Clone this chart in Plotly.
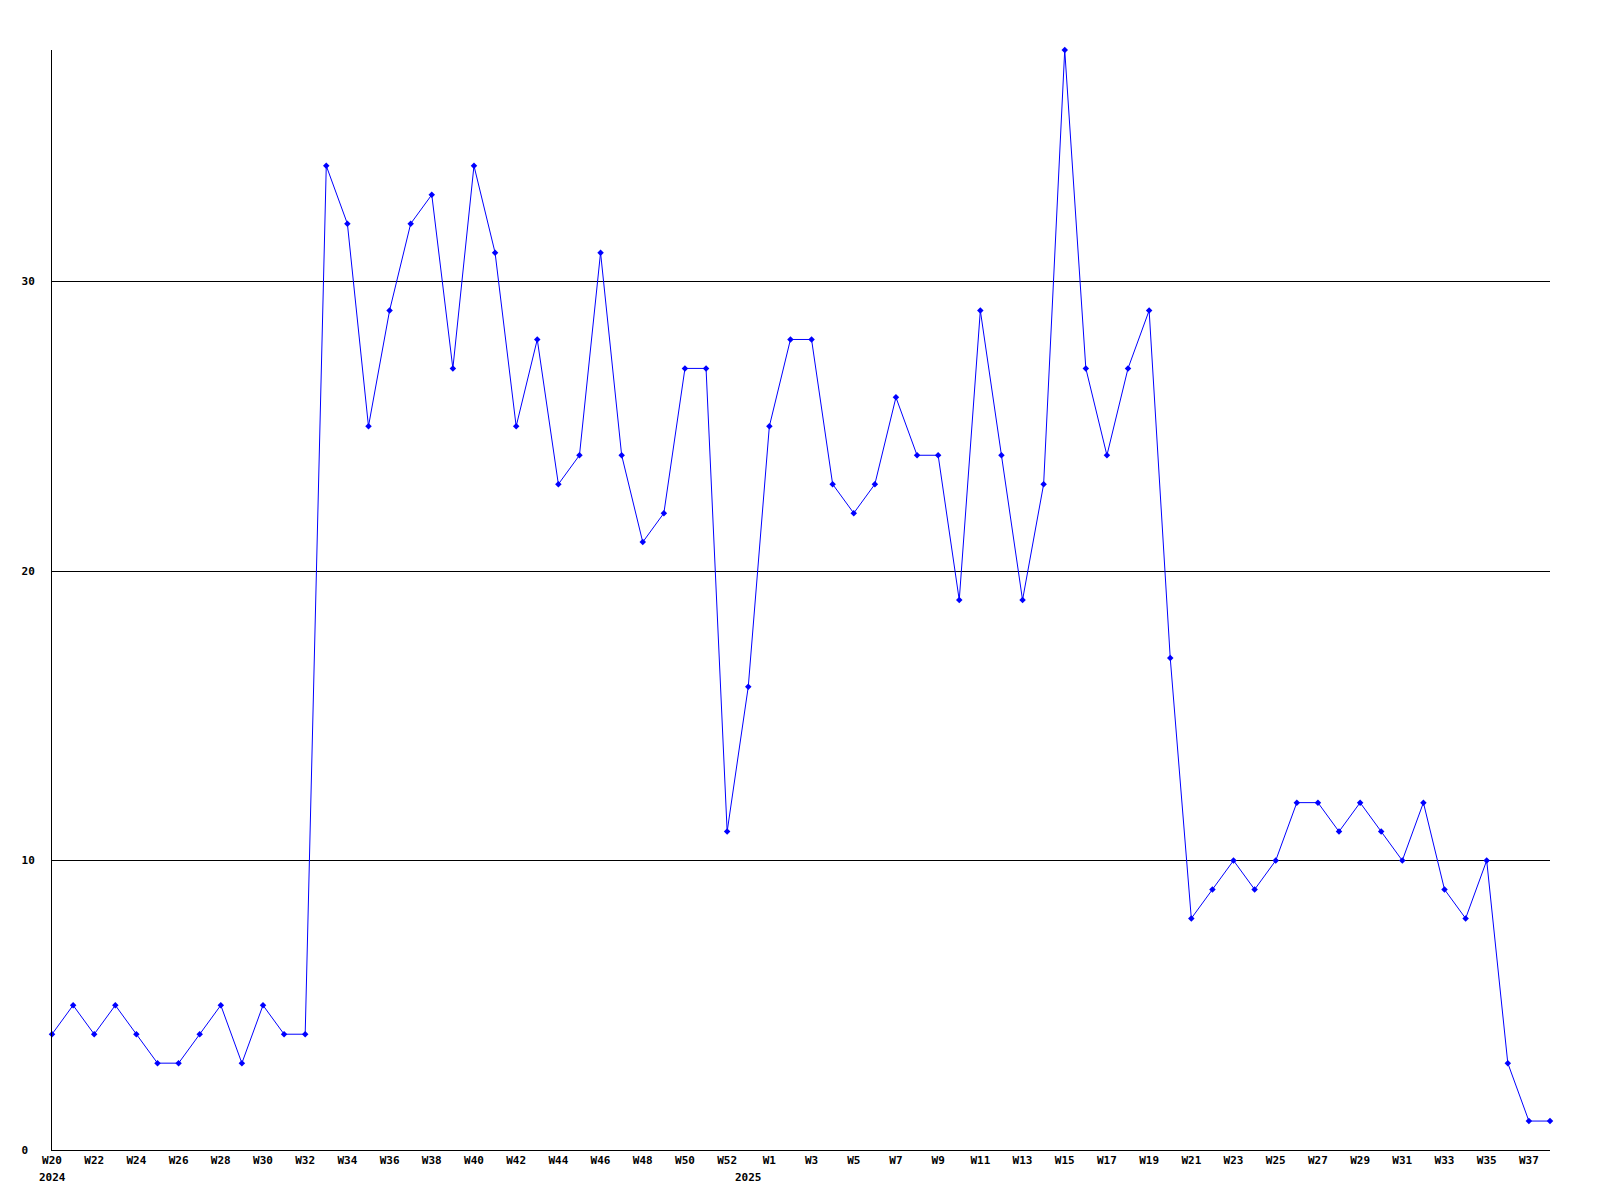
import plotly.graph_objects as go

# Week labels: 2024 W20..W52, an extra week, then 2025 W1..W38
weeks_2024 = ["W%d" % w for w in range(20, 53)]
weeks_extra = ["W53"]
weeks_2025 = ["W%d" % w for w in range(1, 39)]
weeks = weeks_2024 + weeks_extra + weeks_2025

values_2024 = [4, 5, 4, 5, 4, 3, 3, 4, 5, 3, 5, 4, 4, 34, 32, 25, 29, 32, 33, 27,
               34, 31, 25, 28, 23, 24, 31, 24, 21, 22, 27, 27, 11]
values_extra = [16]
values_2025 = [25, 28, 28, 23, 22, 23, 26, 24, 24, 19, 29, 24, 19, 23, 38, 27, 24, 27, 29, 17,
               8, 9, 10, 9, 10, 12, 12, 11, 12, 11, 10, 12, 9, 8, 10, 3, 1, 1]
values = values_2024 + values_extra + values_2025

year_labels = ["2024", "2025"]
year_positions = [0, 33]

y_ticks = [0, 10, 20, 30]
y_tick_text = ["0\u00a0", "10", "20", "30"]

x_idx = list(range(len(values)))
tick_idx = [i for i in x_idx if i % 2 == 0]
tick_text = [weeks[i] for i in tick_idx]

font = dict(family="DejaVu Sans Mono", size=11, color="black", weight="bold")

fig = go.Figure()
fig.add_trace(go.Scatter(
    x=x_idx, y=values, mode="lines+markers",
    line=dict(color="#0000ff", width=1),
    marker=dict(color="#0000ff", size=5, symbol="diamond"),
    hoverinfo="x+y", showlegend=False, cliponaxis=False,
))

for lbl, pos in zip(year_labels, year_positions):
    fig.add_annotation(x=pos, y=0, xref="x", yref="paper", text=lbl,
                       showarrow=False, yanchor="middle", yshift=-27, font=font)

fig.update_layout(
    width=1600, height=1200,
    margin=dict(l=44, r=58, t=42, b=58),
    paper_bgcolor="white", plot_bgcolor="white",
    xaxis=dict(range=[0, len(values) - 1], tickmode="array", tickvals=tick_idx,
               ticktext=tick_text, showgrid=False, zeroline=False,
               showline=True, linecolor="black", linewidth=1,
               ticks="", tickfont=font, tickangle=0),
    yaxis=dict(range=[0, 38], tickmode="array", tickvals=y_ticks, ticktext=y_tick_text,
               showgrid=True, gridcolor="black", gridwidth=1, zeroline=False,
               showline=True, linecolor="black", linewidth=1,
               ticks="", tickfont=font, ticklabelstandoff=14),
)

fig.write_html("out.html")
